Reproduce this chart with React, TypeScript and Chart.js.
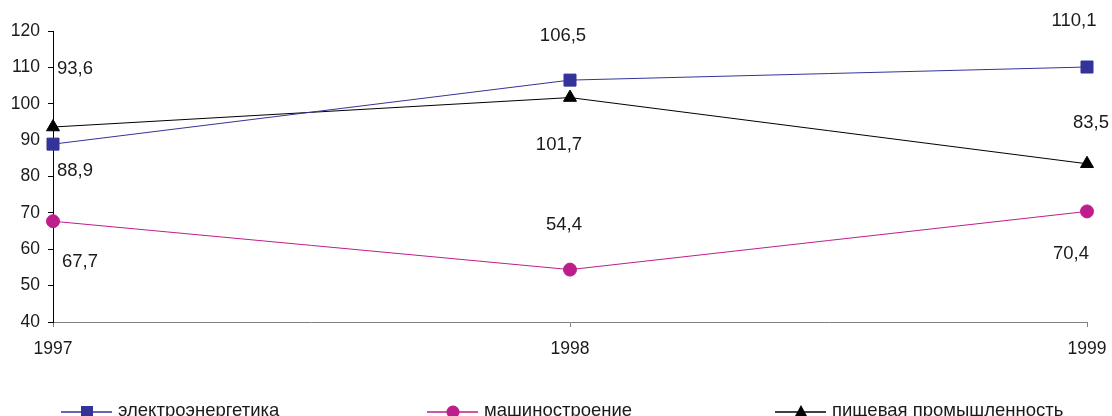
import React, { useEffect, useRef } from 'react';
import { Chart, registerables } from 'chart.js';

Chart.register(...registerables);

const years = ['1997', '1998', '1999'];
const electro = [88.9, 106.5, 110.1];
const machine = [67.7, 54.4, 70.4];
const food = [93.6, 101.7, 83.5];
const seriesNames = ['электроэнергетика', 'машиностроение', 'пищевая промышленность'];
const yMin = 40;
const yMax = 120;
const yStep = 10;

const FONT = '"Liberation Sans", Arial, sans-serif';
const BLUE = '#333399';
const MAGENTA = '#BE1E8C';
const BLACK = '#000000';

// label offsets (px) relative to each point, per dataset [electro, machine, food]
const labelOffsets: number[][][] = [
  [[22, 27], [-7, -44], [-13, -46]],
  [[27, 41], [-6, -45], [-16, 42]],
  [[22, -58], [-11, 47], [4, -41]],
];

const fmt = (v: number) => v.toFixed(1).replace('.', ',');

function drawMarker(ctx: CanvasRenderingContext2D, kind: string, x: number, y: number, color: string) {
  ctx.save();
  ctx.fillStyle = color;
  ctx.strokeStyle = color;
  ctx.beginPath();
  if (kind === 'rect') {
    ctx.rect(x - 6, y - 6, 12, 12);
  } else if (kind === 'circle') {
    ctx.arc(x, y, 6.5, 0, Math.PI * 2);
  } else {
    ctx.moveTo(x, y - 7);
    ctx.lineTo(x + 6.5, y + 5);
    ctx.lineTo(x - 6.5, y + 5);
    ctx.closePath();
  }
  ctx.fill();
  ctx.restore();
}

const labelPlugin = {
  id: 'customPointLabels',
  afterDatasetsDraw(chart: any) {
    const ctx = chart.ctx as CanvasRenderingContext2D;
    ctx.save();
    ctx.font = `18.5px ${FONT}`;
    ctx.fillStyle = '#1a1a1a';
    ctx.textAlign = 'center';
    ctx.textBaseline = 'middle';
    chart.data.datasets.forEach((ds: any, i: number) => {
      const meta = chart.getDatasetMeta(i);
      meta.data.forEach((pt: any, j: number) => {
        const [dx, dy] = labelOffsets[i][j];
        ctx.fillText(fmt(ds.data[j]), pt.x + dx, pt.y + dy);
      });
    });
    ctx.restore();
  },
};

const legendX = [61, 427, 775];
const legendPlugin = {
  id: 'customLegend',
  afterDraw(chart: any) {
    const ctx = chart.ctx as CanvasRenderingContext2D;
    const y = 412;
    ctx.save();
    chart.data.datasets.forEach((ds: any, i: number) => {
      const x0 = legendX[i];
      ctx.strokeStyle = ds.borderColor;
      ctx.lineWidth = 1.5;
      ctx.beginPath();
      ctx.moveTo(x0, y);
      ctx.lineTo(x0 + 51, y);
      ctx.stroke();
      drawMarker(ctx, ds.pointStyle, x0 + 26, y, ds.pointBackgroundColor);
      ctx.font = `18.5px ${FONT}`;
      ctx.fillStyle = '#1a1a1a';
      ctx.textAlign = 'left';
      ctx.textBaseline = 'alphabetic';
      ctx.fillText(seriesNames[i], x0 + 57, y + 4);
    });
    ctx.restore();
  },
};

export default function App() {
  const ref = useRef<HTMLCanvasElement | null>(null);

  useEffect(() => {
    document.body.style.margin = '0';
    if (!ref.current) return;
    const mk = (label: string, data: number[], color: string, style: string, radius: number) => ({
      label,
      data,
      borderColor: color,
      backgroundColor: color,
      pointBackgroundColor: color,
      pointBorderColor: color,
      pointStyle: style,
      pointRadius: radius,
      pointBorderWidth: 1,
      borderWidth: 1,
      tension: 0,
      clip: false as any,
    });
    const chart = new Chart(ref.current, {
      type: 'line',
      data: {
        labels: years,
        datasets: [
          mk(seriesNames[0], electro, BLUE, 'rect', 8.5),
          mk(seriesNames[1], machine, MAGENTA, 'circle', 6.5),
          mk(seriesNames[2], food, BLACK, 'triangle', 7.5),
        ],
      },
      options: {
        animation: false,
        responsive: false,
        devicePixelRatio: 1,
        layout: { padding: { left: 0, right: 25, top: 31, bottom: 54 } },
        plugins: {
          legend: { display: false },
          tooltip: { enabled: false },
        },
        scales: {
          x: {
            offset: false,
            grid: {
              drawOnChartArea: false,
              drawTicks: true,
              tickLength: 5,
              color: '#808080',
            },
            border: { color: '#808080', width: 1 },
            ticks: {
              font: { family: FONT, size: 17.5 },
              color: '#1a1a1a',
              padding: 12,
              maxRotation: 0,
              autoSkip: false,
            },
            afterFit: (scale: any) => {
              scale.height = 40;
              scale.paddingLeft = 0;
              scale.paddingRight = 0;
            },
          },
          y: {
            min: yMin,
            max: yMax,
            grid: {
              drawOnChartArea: false,
              drawTicks: true,
              tickLength: 5,
              color: '#000000',
            },
            border: { color: '#000000', width: 1 },
            ticks: {
              stepSize: yStep,
              font: { family: FONT, size: 17.5 },
              color: '#1a1a1a',
              padding: 8,
            },
            afterFit: (scale: any) => {
              scale.width = 53;
              scale.paddingTop = 0;
              scale.paddingBottom = 0;
            },
          },
        },
      },
      plugins: [labelPlugin, legendPlugin],
    });
    return () => chart.destroy();
  }, []);

  return (
    <div style={{ width: 1112, height: 416 }}>
      <canvas ref={ref} width={1112} height={416} style={{ display: 'block' }} />
    </div>
  );
}
